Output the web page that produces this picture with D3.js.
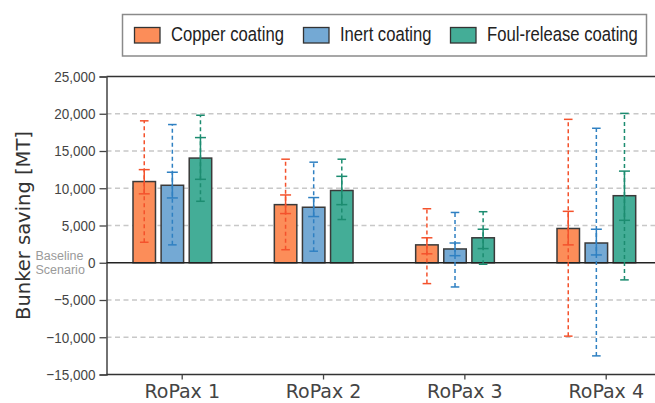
<!DOCTYPE html>
<html><head><meta charset="utf-8">
<script src="https://cdn.jsdelivr.net/npm/d3@7"></script>
<style>body{margin:0;background:#fff;}svg{display:block;}</style>
</head><body>
<svg id="c" width="655" height="403"></svg>
<script>
const categories = ["RoPax 1","RoPax 2","RoPax 3","RoPax 4"];
const seriesNames = ["Copper coating","Inert coating","Foul-release coating"];
const copper = [10900, 7800, 2400, 4600];
const inert  = [10400, 7450, 1850, 2650];
const foul   = [14050, 9700, 3350, 9000];
const copperInner = [[9250,12500],[6600,9100],[1200,3350],[2400,6900]];
const inertInner  = [[8700,12150],[6200,8750],[950,2650],[1050,4500]];
const foulInner   = [[11200,16800],[7800,11600],[1900,4500],[5700,12300]];
const copperOuter = [[2750,19050],[1750,13900],[-2800,7250],[-9850,19250]];
const inertOuter  = [[2400,18550],[1550,13500],[-3250,6750],[-12500,18050]];
const foulOuter   = [[8250,19800],[5800,13900],[-200,6850],[-2300,20050]];
const yTicks = [-15000,-10000,-5000,0,5000,10000,15000,20000,25000];
const gridTicks = [-10000,-5000,5000,10000,15000,20000];

const fills = ["#fc8d59","#74a9d4","#44ad97"];
const errCols = ["#f4522c","#2f80c2","#1c8c70"];
const series = [
  {name: seriesNames[0], vals: copper, inner: copperInner, outer: copperOuter},
  {name: seriesNames[1], vals: inert, inner: inertInner, outer: inertOuter},
  {name: seriesNames[2], vals: foul, inner: foulInner, outer: foulOuter}
];

const svg = d3.select("#c");
const L = 106.5, R = 662, T = 76.5, B = 374.5;
const y = d3.scaleLinear().domain([-15000, 25000]).range([B, T]);
const xTick = d3.scalePoint().domain(categories).range([181.7, 605.7]);
const sub = d3.scaleBand().domain(seriesNames).range([-48.7, 30.0]).paddingInner(0.2).paddingOuter(0);
const fmt = d3.format(",");

// gridlines
svg.append("g").selectAll("line").data(gridTicks).join("line")
  .attr("x1", L).attr("x2", R).attr("y1", d => y(d)).attr("y2", d => y(d))
  .attr("stroke", "#c8c8c8").attr("stroke-width", 1.3).attr("stroke-dasharray", "5,3.5");

// top border
svg.append("line").attr("x1", L).attr("x2", R).attr("y1", y(25000)).attr("y2", y(25000))
  .attr("stroke", "#333").attr("stroke-width", 1.5);

// y axis
const yAxis = svg.append("g").attr("transform", `translate(${L},0)`)
  .call(d3.axisLeft(y).tickValues(yTicks).tickFormat(fmt).tickSize(7).tickPadding(4));
yAxis.select(".domain").attr("stroke", "#444").attr("stroke-width", 1.5);
yAxis.selectAll(".tick line").attr("stroke", "#444").attr("stroke-width", 1.3);
yAxis.selectAll(".tick text").attr("fill", "#444")
  .style("font-family", "'Liberation Sans', Arial, sans-serif").style("font-size", "15.5px")
  .each(function(){ const w = this.getComputedTextLength(); d3.select(this).attr("textLength", w*0.87).attr("lengthAdjust","spacingAndGlyphs"); });

// bottom axis
const xAxis = svg.append("g").attr("transform", `translate(0,${B})`)
  .call(d3.axisBottom(xTick).tickSize(5).tickPadding(5.5));
xAxis.select(".domain").attr("d", `M${L},0H${R}`).attr("stroke", "#333").attr("stroke-width", 1.5);
xAxis.selectAll(".tick line").attr("stroke", "#444").attr("stroke-width", 1.3);
xAxis.selectAll(".tick text").attr("fill", "#444")
  .style("font-family", "'DejaVu Sans', Verdana, sans-serif").style("font-size", "19px");

// bars
series.forEach((s, si) => {
  svg.append("g").selectAll("rect").data(s.vals).join("rect")
    .attr("x", (d, i) => xTick(categories[i]) + sub(s.name))
    .attr("width", sub.bandwidth())
    .attr("y", d => Math.min(y(d), y(0)))
    .attr("height", d => Math.abs(y(d) - y(0)))
    .attr("fill", fills[si]).attr("stroke", "#3a3a3a").attr("stroke-width", 1.5);
});

// zero line
svg.append("line").attr("x1", L).attr("x2", R).attr("y1", y(0)).attr("y2", y(0))
  .attr("stroke", "#222").attr("stroke-width", 1.6);

// error bars
series.forEach((s, si) => {
  const g = svg.append("g").attr("stroke", errCols[si]).attr("stroke-width", 1.5);
  s.vals.forEach((v, i) => {
    const cx = xTick(categories[i]) + sub(s.name) + sub.bandwidth()/2;
    const [ol, oh] = s.outer[i];
    const [il, ih] = s.inner[i];
    g.append("line").attr("x1", cx).attr("x2", cx).attr("y1", y(ol)).attr("y2", y(oh))
      .attr("stroke-dasharray", "4,3");
    [ol, oh].forEach(t => g.append("line").attr("x1", cx-4.3).attr("x2", cx+4.3).attr("y1", y(t)).attr("y2", y(t)));
    g.append("line").attr("x1", cx).attr("x2", cx).attr("y1", y(il)).attr("y2", y(ih));
    [il, ih].forEach(t => g.append("line").attr("x1", cx-5.5).attr("x2", cx+5.5).attr("y1", y(t)).attr("y2", y(t)));
  });
});

// baseline scenario text
const bs = svg.append("text").attr("fill", "#9a9a9a")
  .style("font-family", "'Liberation Sans', Arial, sans-serif").style("font-size", "12.5px");
bs.append("tspan").attr("x", 35.5).attr("y", y(0) - 2.5).text("Baseline");
bs.append("tspan").attr("x", 35.5).attr("y", y(0) + 11.5).text("Scenario");

// y title
svg.append("text").attr("transform", `translate(29.5,${(T+B)/2}) rotate(-90)`)
  .attr("text-anchor", "middle").attr("fill", "#333")
  .style("font-family", "'DejaVu Sans', Verdana, sans-serif").style("font-size", "19.5px")
  .text("Bunker saving [MT]");

// legend
const lg = svg.append("g");
lg.append("rect").attr("x", 122.5).attr("y", 14.5).attr("width", 524).attr("height", 41.5)
  .attr("fill", "#fff").attr("stroke", "#8a8a8a").attr("stroke-width", 1.5);
const legX = [134.5, 303.5, 450.5];
const legW = [113, 91.5, 151];
series.forEach((s, si) => {
  lg.append("rect").attr("x", legX[si]).attr("y", 27.5).attr("width", 25.5).attr("height", 15.5)
    .attr("fill", fills[si]).attr("stroke", "#333").attr("stroke-width", 1.3);
  const tg = lg.append("g");
  const t = tg.append("text").attr("x", 0).attr("y", 0).attr("fill", "#222")
    .style("font-family", "'Liberation Sans', Arial, sans-serif").style("font-size", "19.5px")
    .text(s.name);
  const nat = t.node().getComputedTextLength();
  tg.attr("transform", `translate(${legX[si] + 36.5},40.7) scale(${legW[si]/nat},1)`);
});
</script>
</body></html>
